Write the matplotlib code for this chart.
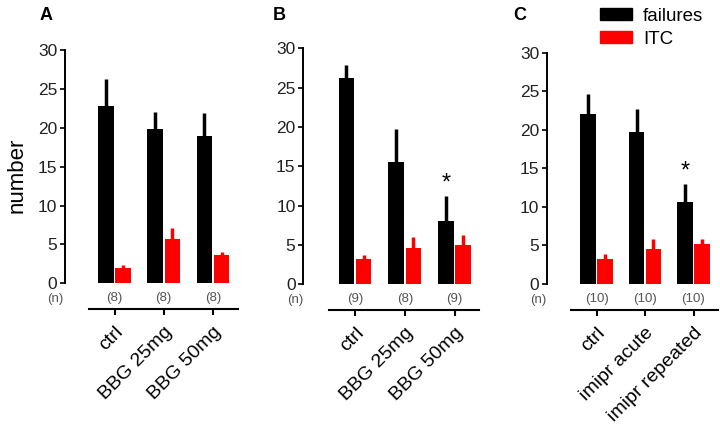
import matplotlib.pyplot as plt
import matplotlib.patches as mpatches
import numpy as np

plt.rcParams['font.family'] = ['Liberation Sans', 'DejaVu Sans']

# panel A
labels_a = ['ctrl', 'BBG 25mg', 'BBG 50mg']
fail_a = [22.8, 19.9, 18.9]
fail_a_sem = [3.5, 2.1, 3.0]
itc_a = [2.0, 5.7, 3.6]
itc_a_sem = [0.3, 1.4, 0.4]
n_a = [8, 8, 8]

# panel B
labels_b = ['ctrl', 'BBG 25mg', 'BBG 50mg']
fail_b = [26.2, 15.6, 8.1]
fail_b_sem = [1.7, 4.2, 3.1]
itc_b = [3.2, 4.6, 5.0]
itc_b_sem = [0.5, 1.4, 1.25]
n_b = [9, 8, 9]

# panel C
labels_c = ['ctrl', 'imipr acute', 'imipr repeated']
fail_c = [22.0, 19.7, 10.7]
fail_c_sem = [2.7, 3.0, 2.3]
itc_c = [3.2, 4.5, 5.2]
itc_c_sem = [0.65, 1.4, 0.7]
n_c = [10, 10, 10]

stars_b = [2]
stars_c = [2]

W, H = 720, 429
fig = plt.figure(figsize=(W / 100, H / 100), dpi=100)

# pixel geometry: spine x, first group centre, group spacing, y=0 px, y=30 px
geom = {
    'A': (65, 114.5, 49.25, 283.3, 50.0),
    'B': (303.3, 355, 49.75, 284.3, 48.3),
    'C': (547, 596.5, 48.5, 284.0, 52.7),
}
letter_x = {'A': 40, 'B': 273, 'C': 513}


def panel(key, labels, fail, fail_sem, itc, itc_sem, n, stars, ylabel=False):
    sx, c0, sp, y0, y30 = geom[key]
    xmin, xmax = (sx - c0) / sp, 2.5
    ax = fig.add_axes([sx / W, 1 - y0 / H, (xmax - xmin) * sp / W, (y0 - y30) / H])
    x = np.arange(len(labels))
    w = 0.31
    ax.bar(x - 0.175, fail, w, color='black', zorder=2)
    ax.bar(x + 0.175, itc, w, color='#ff0000', zorder=2)
    ax.errorbar(x - 0.175, fail, yerr=[np.zeros(3), fail_sem], fmt='none',
                ecolor='black', elinewidth=2.5, capsize=0, zorder=1)
    ax.errorbar(x + 0.175, itc, yerr=[np.zeros(3), itc_sem], fmt='none',
                ecolor='#ff0000', elinewidth=2.5, capsize=0, zorder=1)
    for i in stars:
        ax.text(i - 0.175, fail[i] + fail_sem[i] + 1.6, '*', ha='center', va='center',
                fontsize=17)
    ax.set_xlim(xmin, xmax)
    ax.set_ylim(0, 30)
    ax.set_yticks(range(0, 31, 5))
    for s in ['top', 'right']:
        ax.spines[s].set_visible(False)
    ax.spines['left'].set_linewidth(1.4)
    ax.spines['bottom'].set_linewidth(1.5)
    ax.spines['bottom'].set_position(('outward', 18.7))
    ax.spines['bottom'].set_bounds(-0.52, 2.5)
    ax.tick_params(axis='y', length=3.6, width=1.4, pad=2, labelsize=12.5, colors='#222222')
    ax.tick_params(axis='x', length=4, width=1.5, pad=6, labelsize=14)
    ax.set_xticks(x)
    ax.set_xticklabels(labels, rotation=45, ha='right', rotation_mode='anchor')
    tr = ax.get_xaxis_transform()
    ax.text(-1.2, -16 / (y0 - y30), '(n)', transform=tr, ha='center', va='center',
            fontsize=9.5, color='#555555')
    for i, v in enumerate(n):
        ax.text(i, -15 / (y0 - y30), '(%d)' % v, transform=tr, ha='center', va='center',
                fontsize=9.5, color='#555555')
    if ylabel:
        fig.text(17 / W, 1 - 175 / H, 'number', rotation=90, ha='center', va='center',
                 fontsize=16)
    fig.text(letter_x[key] / W, 1 - 20 / H, key, fontsize=13, fontweight='bold',
             ha='left', va='baseline')
    return ax


panel('A', labels_a, fail_a, fail_a_sem, itc_a, itc_a_sem, n_a, [], ylabel=True)
panel('B', labels_b, fail_b, fail_b_sem, itc_b, itc_b_sem, n_b, stars_b)
panel('C', labels_c, fail_c, fail_c_sem, itc_c, itc_c_sem, n_c, stars_c)

handles = [mpatches.Patch(color='black'), mpatches.Patch(color='#ff0000')]
fig.legend(handles, ['failures', 'ITC'], loc='upper left',
           bbox_to_anchor=(600 / W, 1 - 8 / H), frameon=False, fontsize=13.5,
           handlelength=1.7, handleheight=0.6, handletextpad=0.6,
           labelspacing=0.3, borderpad=0, borderaxespad=0)

fig.savefig('out.png', dpi=100)
